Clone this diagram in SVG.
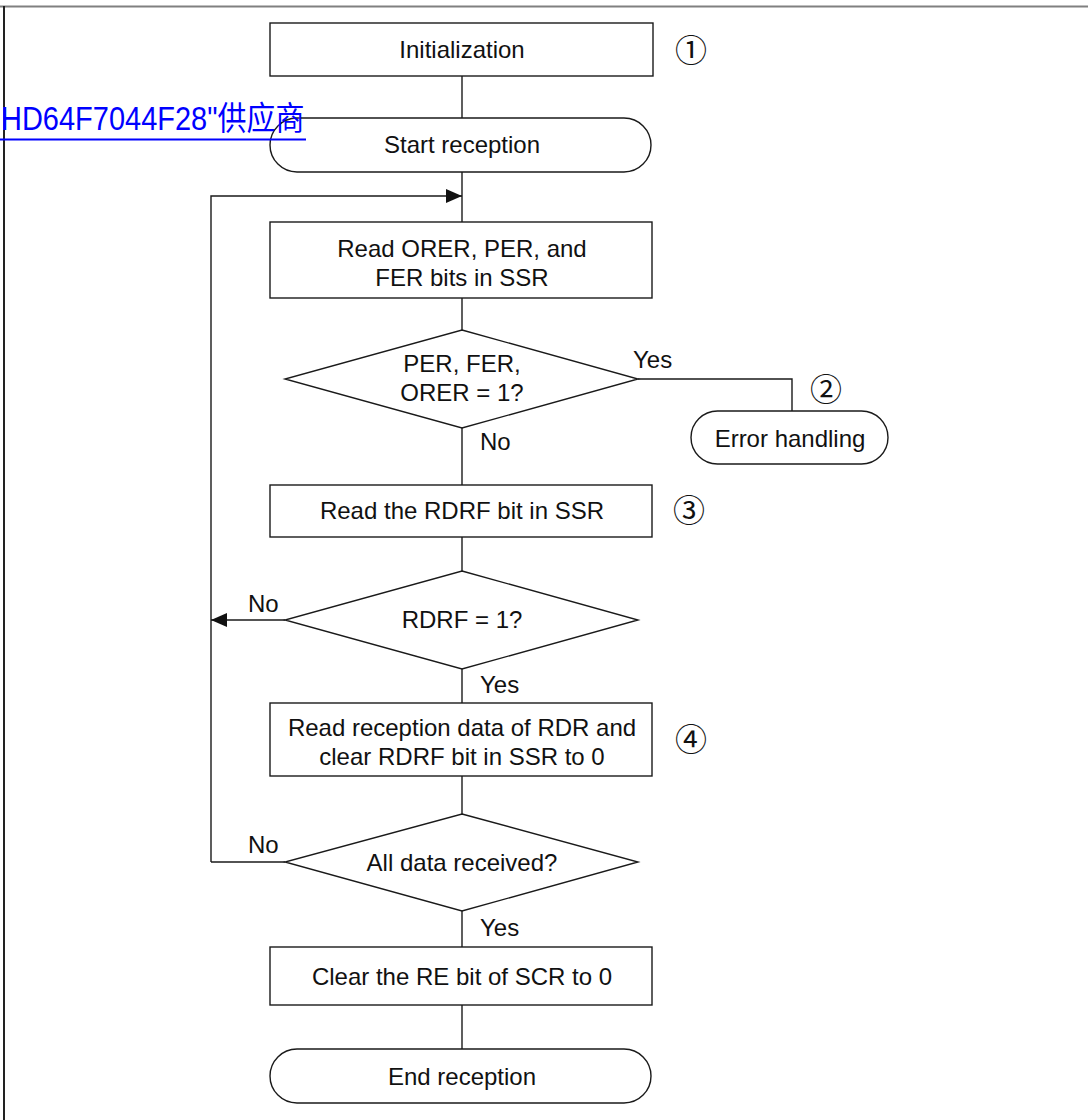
<svg xmlns="http://www.w3.org/2000/svg" width="1088" height="1120" viewBox="0 0 1088 1120">
<style>
.s{fill:#fff;stroke:#1a1a1a;stroke-width:1.4}
.c{fill:none;stroke:#1a1a1a;stroke-width:1.4}
.t{font-family:"Liberation Sans",Arial,sans-serif;font-size:24px;fill:#111;text-anchor:middle}
.l{font-family:"Liberation Sans",Arial,sans-serif;font-size:24px;fill:#111}
.n{font-family:"Liberation Sans","Noto Sans CJK JP",sans-serif;font-size:32px;fill:#111;text-anchor:middle}
</style>
<defs>
<marker id="ah" markerWidth="16" markerHeight="14" refX="16" refY="7" orient="auto" markerUnits="userSpaceOnUse">
<path d="M0,0 L16,7 L0,14 Z" fill="#111"/>
</marker>
</defs>
<rect width="1088" height="1120" fill="#fff"/>
<line x1="0" y1="6.5" x2="1088" y2="6.5" stroke="#808080" stroke-width="2"/>
<line x1="4" y1="6" x2="4" y2="1120" stroke="#222" stroke-width="2"/>

<g id="connectors">
<line class="c" x1="462" y1="76" x2="462" y2="118"/>
<line class="c" x1="462" y1="172" x2="462" y2="222"/>
<polyline class="c" points="211,862 211,196 462,196" marker-end="url(#ah)"/>
<line class="c" x1="462" y1="298" x2="462" y2="330"/>
<polyline class="c" points="638,379 792,379 792,411"/>
<line class="c" x1="462" y1="428" x2="462" y2="485"/>
<line class="c" x1="462" y1="537" x2="462" y2="571"/>
<line class="c" x1="285" y1="620" x2="211" y2="620" marker-end="url(#ah)"/>
<line class="c" x1="462" y1="669" x2="462" y2="703"/>
<line class="c" x1="462" y1="776" x2="462" y2="814"/>
<line class="c" x1="285" y1="862" x2="211" y2="862"/>
<line class="c" x1="462" y1="911" x2="462" y2="947"/>
<line class="c" x1="462" y1="1005" x2="462" y2="1049"/>
<text class="l" x="633" y="368">Yes</text>
<text class="l" x="480" y="450">No</text>
<text class="l" x="248" y="612">No</text>
<text class="l" x="480" y="693">Yes</text>
<text class="l" x="248" y="853">No</text>
<text class="l" x="480" y="936">Yes</text>
</g>

<g id="init">
<rect class="s" x="270" y="23" width="383" height="53"/>
<text class="t" x="462" y="58">Initialization</text>
<text class="n" x="691" y="62">①</text>
</g>

<g id="start">
<rect class="s" x="270" y="118" width="381" height="54" rx="27"/>
<text class="t" x="462" y="153">Start reception</text>
</g>

<g id="readerr">
<rect class="s" x="270" y="222" width="382" height="76"/>
<text class="t" x="462" y="257">Read ORER, PER, and</text>
<text class="t" x="462" y="286">FER bits in SSR</text>
</g>

<g id="dec1">
<polygon class="s" points="462,330 638,379 462,428 285,379"/>
<text class="t" x="462" y="372">PER, FER,</text>
<text class="t" x="462" y="401">ORER = 1?</text>
</g>

<g id="err">
<rect class="s" x="691" y="411" width="197" height="53" rx="26.5"/>
<text class="t" x="790" y="447">Error handling</text>
<text class="n" x="826" y="401">②</text>
</g>

<g id="readrdrf">
<rect class="s" x="270" y="485" width="382" height="52"/>
<text class="t" x="462" y="519">Read the RDRF bit in SSR</text>
<text class="n" x="689" y="522">③</text>
</g>

<g id="dec2">
<polygon class="s" points="462,571 638,620 462,669 285,620"/>
<text class="t" x="462" y="628">RDRF = 1?</text>
</g>

<g id="readdata">
<rect class="s" x="270" y="703" width="382" height="73"/>
<text class="t" x="462" y="736">Read reception data of RDR and</text>
<text class="t" x="462" y="765">clear RDRF bit in SSR to 0</text>
<text class="n" x="691" y="751">④</text>
</g>

<g id="dec3">
<polygon class="s" points="462,814 638,862 462,911 285,862"/>
<text class="t" x="462" y="871">All data received?</text>
</g>

<g id="clearre">
<rect class="s" x="270" y="947" width="382" height="58"/>
<text class="t" x="462" y="985">Clear the RE bit of SCR to 0</text>
</g>

<g id="end">
<rect class="s" x="270" y="1049" width="381" height="54" rx="27"/>
<text class="t" x="462" y="1085">End reception</text>
</g>

<g id="link">
<text transform="translate(1,129.5) scale(1,1.12)" font-family="'Liberation Sans','Noto Sans CJK SC',sans-serif" font-size="29" fill="#0000ff">HD64F7044F28"供应商</text>
<line x1="0" y1="139.5" x2="306" y2="139.5" stroke="#0000ff" stroke-width="2"/>
</g>
</svg>
